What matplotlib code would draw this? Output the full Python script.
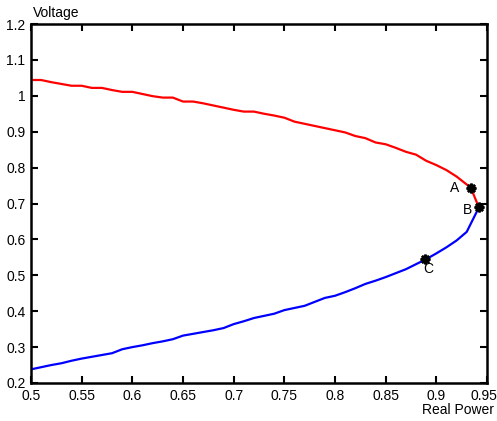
import matplotlib
matplotlib.use("Agg")
import matplotlib.pyplot as plt
import matplotlib.transforms as mtransforms

plt.rcParams['font.family'] = ['Liberation Sans', 'DejaVu Sans']

red_x = [0.50, 0.51, 0.52, 0.53, 0.54, 0.55, 0.56, 0.57, 0.58, 0.59, 0.60, 0.61, 0.62, 0.63, 0.64,
         0.65, 0.66, 0.67, 0.68, 0.69, 0.70, 0.71, 0.72, 0.73, 0.74, 0.75, 0.76, 0.77, 0.78, 0.79,
         0.80, 0.81, 0.82, 0.83, 0.84, 0.85, 0.86, 0.87, 0.88, 0.89, 0.90, 0.91, 0.92, 0.934, 0.942]
red_y = [1.044, 1.044, 1.038, 1.033, 1.028, 1.028, 1.022, 1.022, 1.016, 1.011, 1.011, 1.005, 0.999, 0.995, 0.995,
         0.984, 0.984, 0.979, 0.973, 0.967, 0.961, 0.956, 0.956, 0.950, 0.945, 0.939, 0.928, 0.922, 0.916, 0.910,
         0.904, 0.898, 0.888, 0.882, 0.870, 0.865, 0.855, 0.844, 0.836, 0.819, 0.807, 0.793, 0.775, 0.744, 0.689]

blue_x = [0.50, 0.51, 0.52, 0.53, 0.54, 0.55, 0.56, 0.57, 0.58, 0.59, 0.60, 0.61, 0.62, 0.63, 0.64,
          0.65, 0.66, 0.67, 0.68, 0.69, 0.70, 0.71, 0.72, 0.73, 0.74, 0.75, 0.76, 0.77, 0.78, 0.79,
          0.80, 0.81, 0.82, 0.83, 0.84, 0.85, 0.86, 0.87, 0.88, 0.89, 0.90, 0.91, 0.92, 0.93, 0.942]
blue_y = [0.238, 0.244, 0.250, 0.255, 0.262, 0.268, 0.273, 0.278, 0.283, 0.294, 0.300, 0.305, 0.311, 0.316, 0.322,
          0.332, 0.337, 0.342, 0.347, 0.353, 0.364, 0.372, 0.381, 0.387, 0.393, 0.403, 0.409, 0.415, 0.426, 0.437,
          0.443, 0.453, 0.464, 0.476, 0.485, 0.495, 0.506, 0.517, 0.531, 0.545, 0.561, 0.578, 0.597, 0.621, 0.689]

point_labels = ['A', 'B', 'C']
point_x = [0.934, 0.942, 0.889]
point_y = [0.744, 0.689, 0.545]
label_offsets = [(-11.5, -0.5), (-8.5, -1.5), (2.0, -7.0)]

x_ticks = [0.5, 0.55, 0.6, 0.65, 0.7, 0.75, 0.8, 0.85, 0.9, 0.95]
x_tick_labels = ['0.5', '0.55', '0.6', '0.65', '0.7', '0.75', '0.8', '0.85', '0.9', '0.95']
y_ticks = [0.2, 0.3, 0.4, 0.5, 0.6, 0.7, 0.8, 0.9, 1.0, 1.1, 1.2]
y_tick_labels = ['0.2', '0.3', '0.4', '0.5', '0.6', '0.7', '0.8', '0.9', '1', '1.1', '1.2']

fig = plt.figure(figsize=(4.97, 4.21), dpi=100)
ax = fig.add_axes([31/497, 1 - 383/421, 456/497, 359/421])

ax.plot(red_x, red_y, color='#ff0000', lw=1.6)
ax.plot(blue_x, blue_y, color='#0000ff', lw=1.6)
ax.plot(point_x, point_y, linestyle='none', marker=(8, 2, 0), markersize=7,
        markeredgewidth=1.8, color='black', zorder=5)
for lab, px, py, off in zip(point_labels, point_x, point_y, label_offsets):
    ax.annotate(lab, (px, py), xytext=off, textcoords='offset points',
                ha='center', va='center', fontsize=10, color='black')

ax.set_xlim(0.5, 0.95)
ax.set_ylim(0.2, 1.2)
ax.set_xticks(x_ticks)
ax.set_xticklabels(x_tick_labels)
ax.set_yticks(y_ticks)
ax.set_yticklabels(y_tick_labels)
ax.tick_params(direction='in', top=True, right=True, length=5, width=1.5,
               labelsize=10, pad=4)
for s in ax.spines.values():
    s.set_linewidth(1.8)

# nudge the last x tick label slightly left so it stays inside the figure
last = ax.get_xticklabels()[-1]
last.set_transform(last.get_transform() + mtransforms.ScaledTranslation(-3/100, 0, fig.dpi_scale_trans))

fig.text(33/497, 1 - 13/421, 'Voltage', ha='left', va='center', fontsize=10)
fig.text(494/497, 1 - 410/421, 'Real Power', ha='right', va='center', fontsize=10)

fig.savefig('out.png', dpi=100)
